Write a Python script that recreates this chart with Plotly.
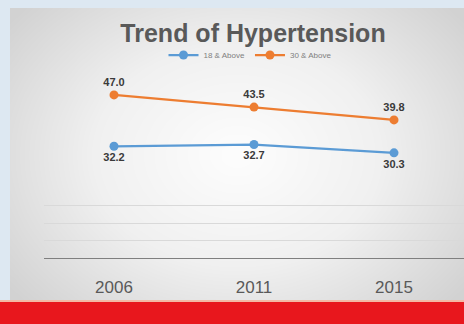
import numpy as np
import plotly.graph_objects as go

years = ["2006", "2011", "2015"]
above_18 = [32.2, 32.7, 30.3]
above_30 = [47.0, 43.5, 39.8]
grid_vals = [5, 10, 15]

W, H = 464, 324

fig = go.Figure()

# soft radial gray backdrop for the panel (drawn on the first subplot so it sits underneath)
gx = np.linspace(-1, 1, 60)
gy = np.linspace(-1, 1, 40)
X, Y = np.meshgrid(gx, gy)
R = np.sqrt((X * 0.95) ** 2 + (Y * 0.8) ** 2)
fig.add_trace(go.Heatmap(
    z=R, x=gx, y=gy, xaxis="x", yaxis="y", showscale=False,
    colorscale=[[0, "#fdfdfd"], [0.5, "#f0f0f0"], [1, "#d2d2d2"]],
    zmin=0, zmax=1.2, hoverinfo="skip", zsmooth="best", showlegend=False,
))

label_font = dict(family="Liberation Sans", size=11, color="#3a3a3a")

fig.add_trace(go.Scatter(
    x=years, y=above_18, name="18 & Above", mode="lines+markers+text",
    xaxis="x2", yaxis="y2", cliponaxis=False,
    line=dict(color="#5b9bd5", width=2.25),
    marker=dict(color="#5b9bd5", size=9),
    text=[f"<b>{v:.1f}</b>" for v in above_18], textposition="bottom center",
    textfont=label_font,
))
fig.add_trace(go.Scatter(
    x=years, y=above_30, name="30 & Above", mode="lines+markers+text",
    xaxis="x2", yaxis="y2", cliponaxis=False,
    line=dict(color="#ed7d31", width=2.25),
    marker=dict(color="#ed7d31", size=9),
    text=[f"<b>{v:.1f}</b>" for v in above_30], textposition="top center",
    textfont=label_font,
))

fig.update_layout(
    width=W, height=H,
    margin=dict(l=0, r=0, t=0, b=0),
    paper_bgcolor="#dde8f2",
    plot_bgcolor="rgba(0,0,0,0)",
    title=dict(
        text="<b>Trend of Hypertension</b>", x=253 / W, xanchor="center",
        y=1 - 33 / H, yanchor="middle",
        font=dict(family="Liberation Sans", size=25, color="#595959"),
    ),
    legend=dict(
        orientation="h", x=250 / W, xanchor="center", y=1 - 55 / H, yanchor="middle",
        font=dict(family="Liberation Sans", size=8, color="#7f7f7f"),
        bgcolor="rgba(0,0,0,0)", itemwidth=30,
    ),
    xaxis=dict(domain=[10 / W, 1], range=[-1, 1], visible=False, fixedrange=True),
    yaxis=dict(domain=[1 - 302 / H, 1 - 8 / H], range=[-1, 1], visible=False, fixedrange=True),
    xaxis2=dict(
        domain=[44 / W, 1], range=[-0.5, 2.5], type="category", anchor="y2",
        showgrid=False, zeroline=False, showline=False,
        ticks="", ticklabelstandoff=17,
        tickfont=dict(family="Liberation Sans", size=17, color="#595959"),
    ),
    yaxis2=dict(
        domain=[1 - 258 / H, 1 - 84.5 / H], range=[0, 50], anchor="x2",
        tickvals=grid_vals, showticklabels=False,
        showgrid=True, gridcolor="#d9d9d9", gridwidth=1,
        zeroline=True, zerolinecolor="#7f7f7f", zerolinewidth=1.2,
    ),
    showlegend=True,
)

# red banner along the bottom edge
fig.add_shape(type="rect", xref="paper", yref="paper", x0=0, x1=1,
              y0=0, y1=1 - 302 / H, fillcolor="#e8171d", line_width=0, layer="above")
fig.add_shape(type="line", xref="paper", yref="paper", x0=0, x1=1,
              y0=1 - 301 / H, y1=1 - 301 / H, line=dict(color="#f3b9a5", width=2), layer="above")

fig.write_html("out.html")
